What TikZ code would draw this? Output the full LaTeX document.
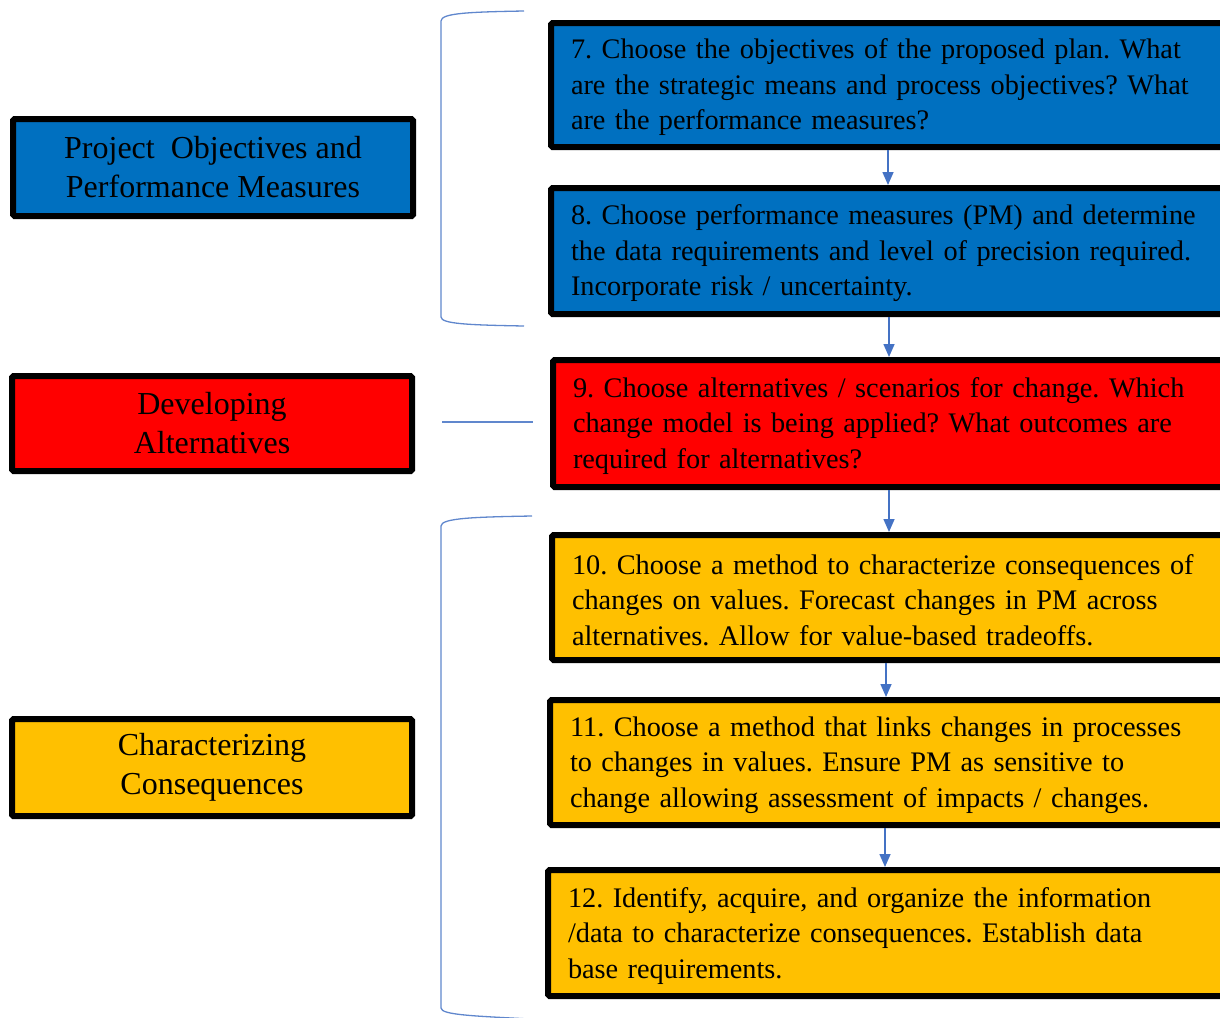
\documentclass[tikz,border=0pt]{standalone}
\usepackage{fontspec}
\setmainfont{Liberation Serif}
\usetikzlibrary{arrows.meta}
\definecolor{pmblue}{HTML}{0070C0}
\definecolor{altred}{HTML}{FF0000}
\definecolor{consorange}{HTML}{FFC000}
\definecolor{linkblue}{HTML}{4472C4}
\frenchspacing
\begin{document}
\begin{tikzpicture}[x=1pt,y=-1pt,
  box/.style={draw=black, line width=6pt, rounded corners=1.5pt, inner ysep=0pt},
  sidebox/.style={box, anchor=north west, minimum width=400pt, align=center,
    font=\fontsize{32}{39}\selectfont},
  stepbox/.style={box, anchor=north west, inner xsep=20pt, text width=700pt, align=left,
    font=\fontsize{28.3}{35.5}\selectfont, execute at begin node={\rule{0pt}{25pt}}},
  arr/.style={draw=linkblue, line width=1.5pt, -{Triangle[width=11pt,length=13pt]}},
  bracket/.style={draw=linkblue!85, line width=1.3pt}]
\useasboundingbox (0,0) rectangle (1220,1017);
\clip (0,0) rectangle (1220,1017);

% category boxes on the left
\node[sidebox, fill=pmblue, minimum height=97pt] (cobj) at (10,116)
  {Project~ Objectives and\\Performance Measures};
\node[sidebox, fill=altred, minimum height=95pt] (calt) at (9,373)
  {Developing\\Alternatives};
\node[sidebox, fill=consorange, minimum height=97pt] (ccons) at (9,716)
  {Characterizing\\Consequences};

% step boxes on the right
\node[stepbox, fill=pmblue, minimum height=124pt] (s7) at (548,20)
  {7. Choose the objectives of the proposed plan. What\\
   are the strategic means and process objectives? What\\
   are the performance measures?};
\node[stepbox, fill=pmblue, minimum height=126pt] (s8) at (548,185)
  {8. Choose performance measures (PM) and determine\\
   the data requirements and level of precision required.\\
   Incorporate risk / uncertainty.};
\node[stepbox, fill=altred, minimum height=127pt] (s9) at (550,357)
  {9. Choose alternatives / scenarios for change. Which\\
   change model is being applied? What outcomes are\\
   required for alternatives?};
\node[stepbox, fill=consorange, minimum height=125pt] (s10) at (549,532)
  {10. Choose a method to characterize consequences of\\
   changes on values. Forecast changes in PM across\\
   alternatives. Allow for value-based tradeoffs.};
\node[stepbox, fill=consorange, minimum height=125pt] (s11) at (547,697)
  {11. Choose a method that links changes in processes\\
   to changes in values. Ensure PM as sensitive to\\
   change allowing assessment of impacts / changes.};
\node[stepbox, fill=consorange, minimum height=126pt] (s12) at (545,867)
  {12. Identify, acquire, and organize the information\\
   /data to characterize consequences. Establish data\\
   base requirements.};

% flow arrows between steps
\coordinate (x78) at (888,0);
\coordinate (x89) at (889,0);
\coordinate (x910) at (889,0);
\coordinate (x1011) at (886,0);
\coordinate (x1112) at (885,0);
\draw[arr] (s7.south -| x78) -- (s8.north -| x78);
\draw[arr] (s8.south -| x89) -- (s9.north -| x89);
\draw[arr] (s9.south -| x910) -- (s10.north -| x910);
\draw[arr] (s10.south -| x1011) -- (s11.north -| x1011);
\draw[arr] (s11.south -| x1112) -- (s12.north -| x1112);

% brackets grouping the steps
\draw[bracket] (524,11) .. controls (470,12) and (441,13) .. (441,21)
  -- (441,317) .. controls (441,324) and (470,325) .. (524,326);
\draw[bracket] (442,422) -- (533,422);
\draw[bracket] (532,516) .. controls (475,517) and (441,518) .. (441,526)
  -- (441,1008) .. controls (441,1015) and (475,1016) .. (530,1019);
\end{tikzpicture}
\end{document}
